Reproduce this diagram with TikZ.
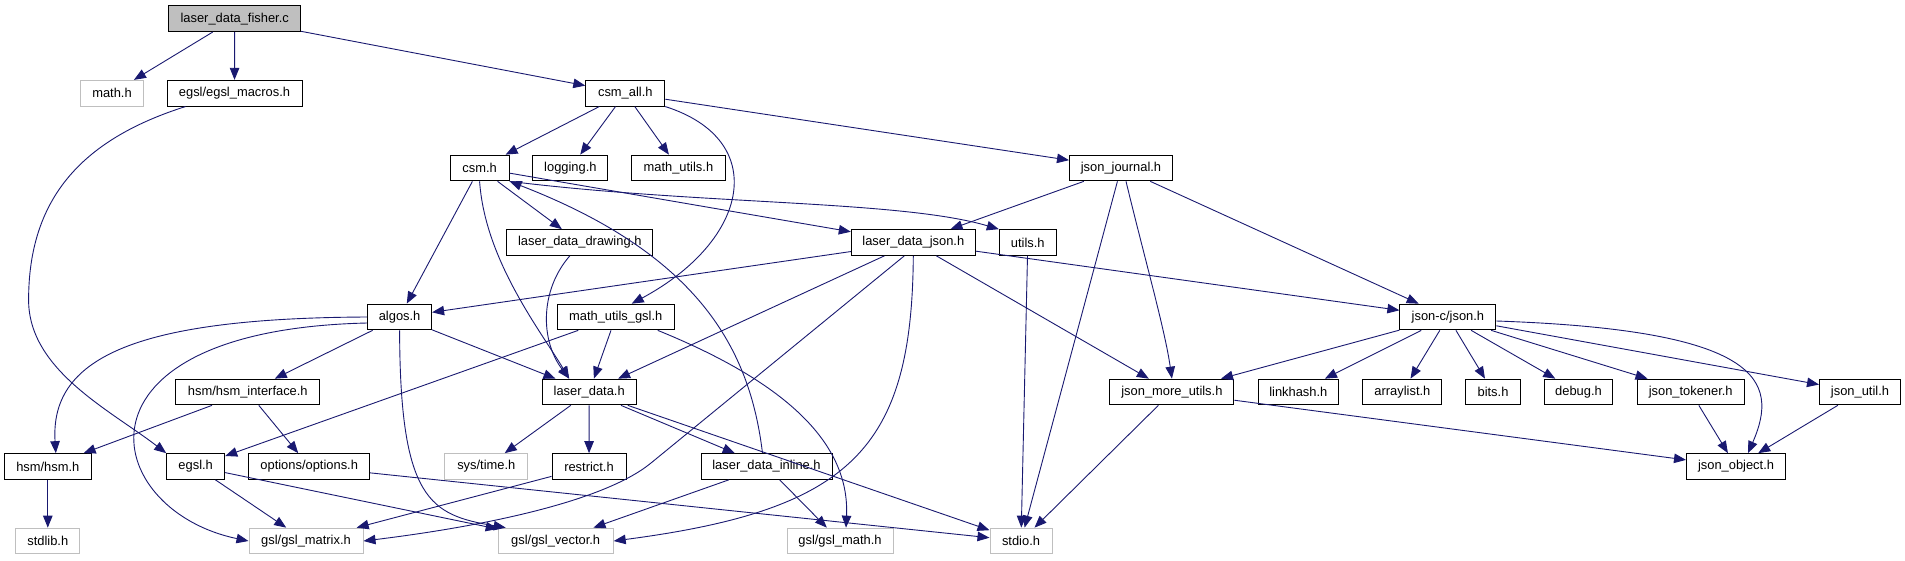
\documentclass[tikz,border=0pt]{standalone}
\usepackage{fontspec}
\setmainfont{Liberation Sans}
\usepackage{tikz}
\usetikzlibrary{positioning, calc, arrows, arrows.meta}
\usepackage{xcolor}
\definecolor{edgeblue}{RGB}{25,25,112}
\definecolor{sysgray}{RGB}{191,191,191}

\begin{document}
\begin{tikzpicture}[x=1pt, y=-1pt,
  hfile/.style = {draw=black, fill=white, line width=1pt, minimum height=25.7pt, inner sep=0pt, font=\fontsize{12.9}{15}\selectfont},
  sysfile/.style = {hfile, draw=sysgray},
  dep/.style = {draw=edgeblue, line width=0.9pt, -{Triangle[length=12pt, width=9.5pt]}} ]

\useasboundingbox (0,0) rectangle (1905,560);

% laser_data_fisher.c - root
\node[hfile, fill=sysgray, minimum width=132] (fisher) at (234.7,18.7) {laser\_data\_fisher.c};

% row 1
\node[sysfile, minimum width=63] (math)    at (112,93.2)   {math.h};
\node[hfile, minimum width=135]  (egslmac) at (234.5,93.2) {egsl/egsl\_macros.h};
\node[hfile, minimum width=79]   (csmall)  at (625.3,93.2) {csm\_all.h};

% row 2
\node[hfile, minimum width=59]  (csm)       at (479.6,168) {csm.h};
\node[hfile, minimum width=75]  (logging)   at (570.4,168) {logging.h};
\node[hfile, minimum width=94]  (mathutils) at (678.4,168) {math\_utils.h};
\node[hfile, minimum width=103] (journal)   at (1121,168)  {json\_journal.h};

% row 3
\node[hfile, minimum width=146] (drawing) at (579.8,242.5)  {laser\_data\_drawing.h};
\node[hfile, minimum width=124] (ldjson)  at (913.3,242.5)  {laser\_data\_json.h};
\node[hfile, minimum width=57]  (utils)   at (1027.8,242.5) {utils.h};

% row 4
\node[hfile, minimum width=64]  (algos) at (399.6,317)  {algos.h};
\node[hfile, minimum width=117] (mugsl) at (615.7,317)  {math\_utils\_gsl.h};
\node[hfile, minimum width=96]  (jsonc) at (1447.9,317) {json-c/json.h};

% row 5
\node[hfile, minimum width=144] (hsmif)     at (247.8,392)  {hsm/hsm\_interface.h};
\node[hfile, minimum width=94]  (laserdata) at (589.2,392)  {laser\_data.h};
\node[hfile, minimum width=124] (jmore)     at (1171.9,392) {json\_more\_utils.h};
\node[hfile, minimum width=80]  (linkhash)  at (1298.3,392) {linkhash.h};
\node[hfile, minimum width=79]  (arraylist) at (1402.4,392) {arraylist.h};
\node[hfile, minimum width=55]  (bits)      at (1493,392)   {bits.h};
\node[hfile, minimum width=68]  (debug)     at (1578.5,392) {debug.h};
\node[hfile, minimum width=107] (tokener)   at (1690.7,392) {json\_tokener.h};
\node[hfile, minimum width=81]  (jutil)     at (1860,392)   {json\_util.h};

% row 6
\node[hfile, minimum width=87]   (hsm)      at (47.8,466.5)  {hsm/hsm.h};
\node[hfile, minimum width=58]   (egsl)     at (195.7,466.5) {egsl.h};
\node[hfile, minimum width=121]  (options)  at (309.2,466.5) {options/options.h};
\node[sysfile, minimum width=83] (systime)  at (486.3,466.5) {sys/time.h};
\node[hfile, minimum width=74]   (restrict) at (589,466.5)   {restrict.h};
\node[hfile, minimum width=131]  (inline)   at (766.5,466.5) {laser\_data\_inline.h};
\node[hfile, minimum width=99]   (jobject)  at (1736,466.5)  {json\_object.h};

% row 7 - system headers
\node[sysfile, minimum width=64]  (stdlib)    at (47.8,541)  {stdlib.h};
\node[sysfile, minimum width=114] (gslmatrix) at (306,541)   {gsl/gsl\_matrix.h};
\node[sysfile, minimum width=115] (gslvector) at (555.7,541) {gsl/gsl\_vector.h};
\node[sysfile, minimum width=106] (gslmath)   at (840,541)   {gsl/gsl\_math.h};
\node[sysfile, minimum width=62]  (stdio)     at (1021,541)  {stdio.h};

%--- fisher ---
\draw[dep] (fisher) -- (math);
\draw[dep] (fisher) -- (egslmac);
\draw[dep] (fisher) -- (csmall);

%--- egsl_macros -> egsl, round the left side
\draw[dep] ([xshift=-49]egslmac.south) .. controls (80,140) and (28.6,200) .. (28.6,300) .. controls (28.6,370) and (110,410) .. (egsl.north west);

%--- csm_all ---
\draw[dep] (csmall) -- (csm);
\draw[dep] (csmall) -- (logging);
\draw[dep] (csmall) -- (mathutils);
\draw[dep] (csmall) -- (journal);
\draw[dep] (csmall.south east) .. controls (770,140) and (750,240) .. ([xshift=16]mugsl.north);

%--- csm ---
\draw[dep] (csm) -- (algos);
\draw[dep] (csm.south) .. controls (485,260) and (540,330) .. ([xshift=-20]laserdata.north);
\draw[dep] (csm) -- (drawing);
\draw[dep] (csm) -- (ldjson);
\draw[dep] (csm.south east) .. controls (700,205) and (900,200) .. (utils.north west);

%--- laser_data_drawing ---
\draw[dep] ([xshift=-10]drawing.south) .. controls (540,290) and (540,340) .. ([xshift=-20]laserdata.north);

%--- json_journal ---
\draw[dep] (journal) -- (ldjson);
\draw[dep] (journal) -- (stdio);
\draw[dep] ([xshift=5]journal.south) .. controls (1145,260) and (1165,330) .. (jmore.north);
\draw[dep] (journal) -- (jsonc);

%--- laser_data_json ---
\draw[dep] (ldjson) -- (algos);
\draw[dep] (ldjson) -- (laserdata);
\draw[dep] ([xshift=-9]ldjson.south) -- (651,463) .. controls (601,504) and (470,528) .. (gslmatrix.east);
\draw[dep] (ldjson.south) .. controls (912,450) and (850,510) .. (gslvector.east);
\draw[dep] (ldjson) -- (jmore);
\draw[dep] (ldjson) -- (jsonc);

%--- utils ---
\draw[dep] (utils) -- (stdio);

%--- algos ---
\draw[dep] (algos.west) .. controls (130,318) and (50,360) .. ([xshift=8]hsm.north);
\draw[dep] ([yshift=-6]algos.west) .. controls (60,330) and (100,510) .. (gslmatrix.west);
\draw[dep] (algos) -- (hsmif);
\draw[dep] (algos) -- (laserdata);
\draw[dep] (algos.south) .. controls (400,500) and (430,515) .. ([xshift=8]gslvector.north west);

%--- math_utils_gsl ---
\draw[dep] (mugsl) -- (laserdata);
\draw[dep] (mugsl) -- (egsl);
\draw[dep] ([xshift=42]mugsl.south) .. controls (780,380) and (850,440) .. ([xshift=6]gslmath.north);

%--- json-c/json.h ---
\draw[dep] (jsonc) -- (jmore);
\draw[dep] (jsonc) -- (linkhash);
\draw[dep] (jsonc) -- (arraylist);
\draw[dep] (jsonc) -- (bits);
\draw[dep] (jsonc) -- (debug);
\draw[dep] (jsonc) -- (tokener);
\draw[dep] (jsonc) -- (jutil);
\draw[dep] ([yshift=-4]jsonc.east) .. controls (1760,330) and (1780,380) .. ([xshift=12]jobject.north);

%--- row 5 ---
\draw[dep] (hsmif) -- (hsm);
\draw[dep] (hsmif) -- (options);
\draw[dep] (laserdata) -- (systime);
\draw[dep] (laserdata) -- (restrict);
\draw[dep] (laserdata) -- (inline);
\draw[dep] (laserdata) -- (stdio);
\draw[dep] (jmore) -- (jobject);
\draw[dep] (jmore) -- (stdio);
\draw[dep] (tokener) -- (jobject);
\draw[dep] (jutil) -- (jobject);

%--- row 6 ---
\draw[dep] (hsm) -- (stdlib);
\draw[dep] (egsl) -- (gslmatrix);
\draw[dep] (egsl) -- (gslvector);
\draw[dep] (options) -- (stdio);
\draw[dep] (restrict) -- (gslmatrix);
\draw[dep] (inline) -- (gslvector);
\draw[dep] (inline) -- (gslmath);

%--- laser_data_inline back up to csm
\draw[dep] ([xshift=-4]inline.north) .. controls (750,350) and (700,255) .. (csm.south east);

\end{tikzpicture}
\end{document}
